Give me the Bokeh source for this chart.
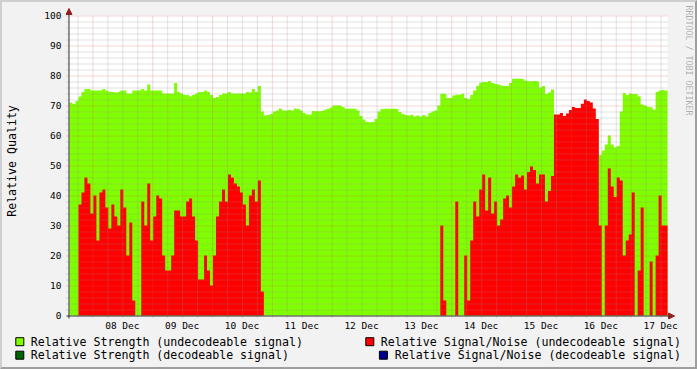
import math
from bokeh.plotting import figure
from bokeh.models import FixedTicker, Label, Arrow, NormalHead, Range1d
from bokeh.layouts import column
from bokeh.core.properties import value
from bokeh.embed import file_html
from bokeh.resources import INLINE

# ---------------- data ----------------
# time axis: one sample every 0.05 day (72 min); x unit = day, noon of "Dec N" = N
sample_start = 7.5 - 23.0 / 60.0
sample_step = 0.05

day_ticks = [8, 9, 10, 11, 12, 13, 14, 15, 16, 17]
day_labels = ["08 Dec", "09 Dec", "10 Dec", "11 Dec", "12 Dec",
              "13 Dec", "14 Dec", "15 Dec", "16 Dec", "17 Dec"]
value_ticks = [0, 10, 20, 30, 40, 50, 60, 70, 80, 90, 100]

strength_undecodeable = [
    71, 70.5, 71.5, 73, 74.5, 75.5, 75.5, 75, 75, 75, 75, 75.5, 75, 74.5, 74.5,
    74.3, 74.5, 75, 75, 74, 74, 75, 75, 75, 75.5, 75, 77, 75, 75, 75,
    75, 74, 74, 74, 74, 77.5, 74.5, 74, 73.5, 73.5, 73,
    73.5, 74, 74.5, 74.5, 75, 74.5, 73.5, 72.5, 72.8, 73.5, 74, 74, 74.5, 74,
    74, 74, 74, 74, 74.5, 74.3, 75.5, 74.5, 76.5,
    68, 66.7, 66.8, 67.2, 68, 68.3, 69, 68.3, 68.3, 68.5, 68.3, 69, 68.8, 68.3,
    67.5, 67, 67,
    68.2, 68.1, 68.1, 68.2, 68.6, 68.9, 69.3, 70, 70, 70, 69.5, 68.9, 68.9, 68.9,
    68.9, 68.3, 66.5, 65.3, 64.5, 64.4, 64.5, 65.5, 68, 68.8, 68.9, 68.9, 68.9,
    68.9, 68.8, 67.8, 67.2, 66.8, 66.7, 66.9, 66.3, 66.7, 66.3, 66.8, 66.3, 67.5,
    68, 68.3, 70, 73.9, 73.9, 72.5, 72.5, 73.3, 73.6, 73.6, 73.9, 72.5, 72.2,
    73.5, 75, 76.5, 77.6, 77.8, 77.8, 78.2, 77.5, 77.2, 77, 76.7, 76.5, 76.5,
    77.5, 78.9, 78.9, 78.9, 78.8, 78.3, 78.1, 78.1, 78.2, 78.1, 76, 76.5, 73.9,
    74.3,
    75.3,
    65, 65, 65, 65, 65, 66, 67, 67, 67, 68, 69, 69, 68, 66, 63,
    53.5, 55, 57, 60, 57, 56, 56.5, 68, 74.2, 73.5, 74, 73.8, 73.8, 73, 70.3,
    70, 69.6, 69.4, 68.6, 74.5, 75, 75.2, 75,
]

snr_undecodeable = [
    0, 0, 0, 37, 41, 46, 44, 34, 40, 25, 41, 42, 36, 29, 37, 33, 30, 42, 36, 20,
    31, 5, 0, 0, 38, 30, 44, 25, 33, 40, 39, 20, 15, 15, 20, 35, 35, 33, 33, 38,
    39, 33, 25, 12, 12, 20, 15, 10, 20, 33, 38, 42, 38, 47, 46, 44, 43, 41, 37,
    30, 40, 42, 38, 45, 8,
    0, 0, 0, 0, 0, 0, 0, 0, 0, 0, 0, 0, 0, 0, 0, 0, 0, 0, 0, 0,
    0, 0, 0, 0, 0, 0, 0, 0, 0, 0, 0, 0, 0, 0, 0, 0, 0, 0, 0, 0,
    0, 0, 0, 0, 0, 0, 0, 0, 0, 0, 0, 0, 0, 0, 0, 0, 0, 0, 0,
    30, 5, 0, 0, 0, 38, 0, 0, 20, 5, 25, 38, 33, 42, 47, 35, 46, 34, 38, 30,
    32, 39, 40, 36, 43, 47, 46, 46.7, 42, 47.8, 49.7, 48.5, 44, 47, 47, 38,
    41.5, 46.5,
    67, 67, 67.5, 66.5, 67.3, 68.5, 69.5, 69.2, 69.2, 70.6, 72, 71.5, 71, 69,
    65.5,
    30, 0, 30, 49, 43, 39.5, 46, 45, 20, 25, 27, 41, 0, 15, 36, 0, 0, 18, 0, 20,
    40, 30, 30,
]

legend_labels = [
    "Relative Strength (undecodeable signal)",
    "Relative Strength  (decodeable signal)",
    "Relative Signal/Noise (undecodeable signal)",
    "Relative Signal/Noise (decodeable signal)",
]
legend_colors = ["#80FF00", "#006400", "#FF0000", "#000090"]

# ---------------- styling constants ----------------
BACK = "#F2F2F2"
MONO = "DejaVu Sans Mono"
GRID = "#8F8F8F"
MGRID = "#DE5050"
ARROW = "#902020"
AXIS = "#303030"
PX_X = 1 / 60.0   # one pixel in days
PX_Y = 1 / 3.0    # one pixel in value units

n = min(len(strength_undecodeable), len(snr_undecodeable))
xs = [sample_start + sample_step * i for i in range(n + 1)]
g_ext = strength_undecodeable[:n] + [strength_undecodeable[n - 1]]
r_ext = snr_undecodeable[:n] + [snr_undecodeable[n - 1]]

x0 = sample_start
x1 = sample_start + 10.0

# frame extends a bit beyond the canvas so the axis arrows and watermark fit
p = figure(width=693, height=333,
           x_range=Range1d(x0 - 4 * PX_X, x0 + 628 * PX_X),
           y_range=Range1d(-4 * PX_Y, 100 + 13 * PX_Y),
           output_backend="svg", toolbar_location=None,
           min_border_left=61, min_border_right=0, min_border_top=0,
           min_border_bottom=16,
           background_fill_color=BACK, border_fill_color=BACK,
           outline_line_color=None, frame_align=False)
p.xgrid.visible = False
p.ygrid.visible = False

# white canvas
p.quad(left=[x0], right=[x1], bottom=[0], top=[100], fill_color="white",
       line_color=None)

p.varea_step(x=xs, y1=[0] * len(xs), y2=g_ext, step_mode="after",
             fill_color="#80FF00")
p.varea_step(x=xs, y1=[0] * len(xs), y2=r_ext, step_mode="after",
             fill_color="#FF0000")

# grid (drawn on top of the data, like rrdtool)
midnights = [d - 0.5 for d in day_ticks]
quarters = [m + f for m in [7.5 - 1] + midnights for f in (0.25, 0.5, 0.75)]
quarters = [q for q in quarters if x0 < q < x1]
minor_vals = [v for v in range(2, 100, 2) if v % 10]
major_vals = [v for v in value_ticks if 0 < v <= 100]

def vlines(xv, color, alpha):
    p.segment(x0=[x + 0.5 * PX_X for x in xv], y0=[-2 * PX_Y] * len(xv),
              x1=[x + 0.5 * PX_X for x in xv], y1=[100] * len(xv),
              line_color=color, line_alpha=alpha, line_width=1, line_dash="1 1")

def hlines(yv, color, alpha):
    p.segment(x0=[x0 - 3 * PX_X] * len(yv), y0=[y - 0.5 * PX_Y for y in yv],
              x1=[x1] * len(yv), y1=[y - 0.5 * PX_Y for y in yv],
              line_color=color, line_alpha=alpha, line_width=1, line_dash="1 1")

vlines(quarters, GRID, 0.5)
hlines(minor_vals, GRID, 0.5)
vlines(midnights, MGRID, 0.45)
hlines(major_vals, MGRID, 0.45)

# axis lines with arrow heads (drawn at the canvas edges)
p.add_layout(Arrow(x_start=x0 - 3 * PX_X, y_start=-0.5 * PX_Y,
                   x_end=x1 + 7 * PX_X, y_end=-0.5 * PX_Y,
                   line_color=AXIS, line_width=1,
                   end=NormalHead(size=6, fill_color=ARROW, line_color=ARROW)))
p.add_layout(Arrow(x_start=x0 - 0.5 * PX_X, y_start=-3 * PX_Y,
                   x_end=x0 - 0.5 * PX_X, y_end=100 + 7 * PX_Y,
                   line_color=AXIS, line_width=1,
                   end=NormalHead(size=6, fill_color=ARROW, line_color=ARROW)))

# x axis (labels only; the line is the arrow above)
p.xaxis.ticker = FixedTicker(ticks=day_ticks, minor_ticks=[])
p.xaxis.major_label_overrides = {t: lab for t, lab in zip(day_ticks, day_labels)}
p.xaxis.axis_line_color = None
p.xaxis.major_tick_line_color = None
p.xaxis.minor_tick_line_color = None
p.xaxis.major_tick_out = 0
p.xaxis.major_tick_in = 0
p.xaxis.minor_tick_out = 0
p.xaxis.minor_tick_in = 0
p.xaxis.major_label_standoff = 0
p.xaxis.major_label_text_font = MONO
p.xaxis.major_label_text_font_size = "9.5px"
p.xaxis.major_label_text_color = "black"

# y axis (labels only)
p.yaxis.ticker = FixedTicker(ticks=value_ticks, minor_ticks=[])
p.yaxis.axis_line_color = None
p.yaxis.major_tick_line_color = None
p.yaxis.minor_tick_line_color = None
p.yaxis.major_tick_out = 0
p.yaxis.major_tick_in = 0
p.yaxis.minor_tick_out = 0
p.yaxis.minor_tick_in = 0
p.yaxis.major_label_standoff = 4
p.yaxis.major_label_text_font = MONO
p.yaxis.major_label_text_font_size = "9.5px"
p.yaxis.major_label_text_color = "black"
p.yaxis.axis_label = "Relative Quality"
p.yaxis.axis_label_text_font = MONO
p.yaxis.axis_label_text_font_size = "11.6px"
p.yaxis.axis_label_text_font_style = "normal"
p.yaxis.axis_label_text_color = "black"
p.yaxis.axis_label_standoff = 22

# watermark
p.add_layout(Label(x=x0 + 621.5 * PX_X, y=100 + 10 * PX_Y,
                   text="RRDTOOL / TOBI OETIKER", angle=-math.pi / 2,
                   text_align="left", text_baseline="middle",
                   text_font=MONO, text_font_size="8.3px",
                   text_color="black", text_alpha=0.3))

# ---------------- legend figure ----------------
lg = figure(width=693, height=32, x_range=Range1d(2, 695), y_range=Range1d(367, 335),
            output_backend="svg", toolbar_location=None,
            x_axis_location=None, y_axis_location=None,
            min_border=0, min_border_left=0, min_border_right=0,
            min_border_top=0, min_border_bottom=0,
            background_fill_color=BACK, border_fill_color=BACK,
            outline_line_color=None, frame_align=False)
lg.grid.visible = False

box_x = [19.3, 19.3, 369.3, 382.9]
box_y = [341.2, 354.7, 341.2, 354.7]
lg.rect(x=box_x, y=box_y, width=8, height=8, fill_color=legend_colors,
        line_color="black", line_width=1)
lg.text(x=[30.2, 30.2], y=[341.2, 354.7], text=legend_labels[:2],
        text_font=value(MONO), text_font_size="11.6px",
        text_align="left", text_baseline="middle", text_color="black")
lg.text(x=[680.5, 680.5], y=[341.2, 354.7], text=legend_labels[2:],
        text_font=value(MONO), text_font_size="11.6px",
        text_align="right", text_baseline="middle", text_color="black")

layout = column(p, lg, spacing=0,
                styles={"border-top": "2px solid #CFCFCF",
                        "border-left": "2px solid #CFCFCF",
                        "border-right": "2px solid #9E9E9E",
                        "border-bottom": "2px solid #9E9E9E",
                        "background-color": BACK})

open("out.html", "w").write(file_html(layout, INLINE))
